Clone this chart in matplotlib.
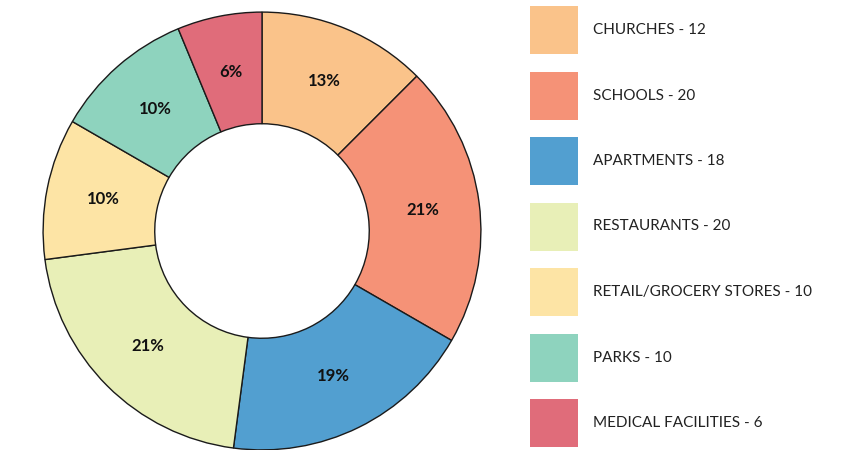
import matplotlib
matplotlib.use("Agg")
import matplotlib.pyplot as plt
from matplotlib.patches import Rectangle

plt.rcParams['font.family'] = ['Lato', 'DejaVu Sans']

categories = ["CHURCHES", "SCHOOLS", "APARTMENTS", "RESTAURANTS",
              "RETAIL/GROCERY STORES", "PARKS", "MEDICAL FACILITIES"]
values = [12, 20, 18, 20, 10, 10, 6]
colors = ["#FAC38A", "#F59277", "#529FD0", "#E8EFB7",
          "#FDE4A5", "#8ED3BE", "#E06C7A"]

W, H = 863, 450
fig = plt.figure(figsize=(W / 100, H / 100), dpi=100)

# donut axes, placed in pixels
cx, cy, r = 262, 231, 220
ax = fig.add_axes([(cx - r) / W, (H - cy - r) / H, 2 * r / W, 2 * r / H])
wedges, texts, autotexts = ax.pie(
    values, colors=colors, startangle=90, counterclock=False,
    radius=1, autopct=lambda p: f"{int(p + 0.5)}%", pctdistance=0.74,
    wedgeprops=dict(width=0.51, edgecolor="#1a1a1a", linewidth=1),
    textprops=dict(fontsize=12, fontweight="bold", color="#111111"))
ax.set_xlim(-1.005, 1.005)
ax.set_ylim(-1.005, 1.005)
ax.set_aspect("equal")
ax.axis("off")

# legend drawn by hand
lax = fig.add_axes([0, 0, 1, 1])
lax.set_xlim(0, W)
lax.set_ylim(H, 0)
lax.axis("off")
for i, (c, v, col) in enumerate(zip(categories, values, colors)):
    yc = 30 + i * 65.5
    lax.add_patch(Rectangle((530, yc - 24), 48, 48, facecolor=col, edgecolor="none"))
    lax.text(593, yc, f"{c} - {v}", fontsize=11, va="center", ha="left", color="#222222")

fig.savefig("out.png", dpi=100)
